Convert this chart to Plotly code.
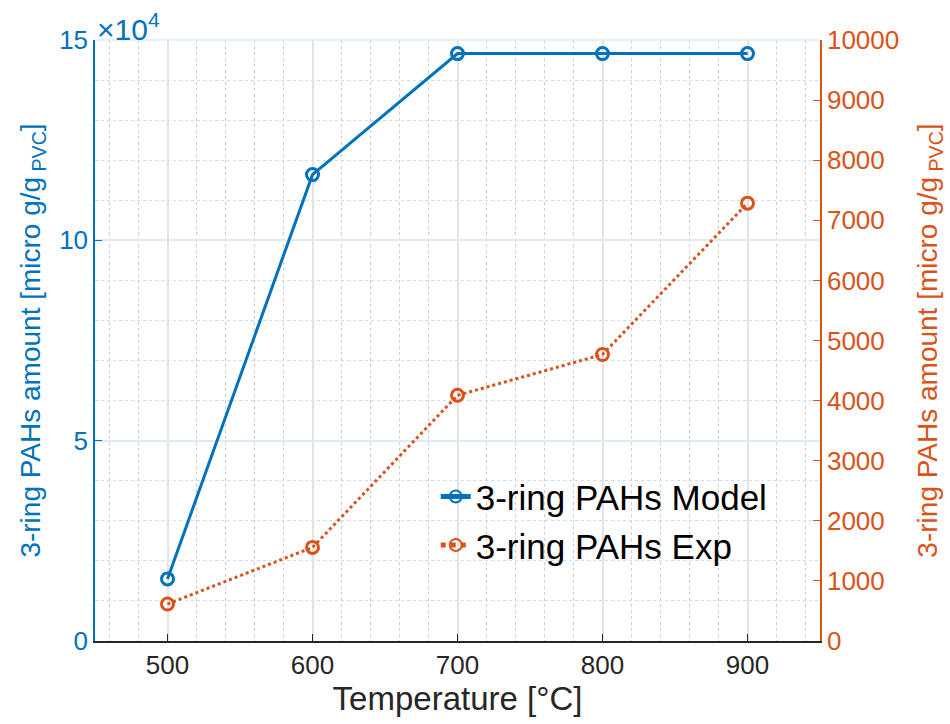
import plotly.graph_objects as go

temps = [500, 600, 700, 800, 900]
model_vals = [15500, 116400, 146600, 146600, 146600]
exp_vals = [615, 1557, 4088, 4767, 7285]
left_ticks = [0, 50000, 100000, 150000]
left_ticktext = ["0", "5", "10", "15"]
x_ticks = [500, 600, 700, 800, 900]

BLUE = "#0072BD"
ORANGE = "#D95319"
FONT = "Liberation Sans, Arial, Helvetica, sans-serif"

fig = go.Figure()
fig.add_trace(go.Scatter(
    x=temps, y=model_vals, name="3-ring PAHs Model", mode="lines+markers",
    line=dict(color=BLUE, width=3),
    marker=dict(symbol="circle-open", size=12, color=BLUE, line=dict(width=3)),
    yaxis="y"))
fig.add_trace(go.Scatter(
    x=temps, y=exp_vals, name="3-ring PAHs Exp", mode="lines+markers",
    line=dict(color=ORANGE, width=3, dash="dot"),
    marker=dict(symbol="circle-open", size=12, color=ORANGE, line=dict(width=3)),
    yaxis="y2"))

fig.update_layout(
    width=950, height=724,
    margin=dict(l=95, r=128, t=40, b=83),
    paper_bgcolor="white", plot_bgcolor="white",
    font=dict(family=FONT, size=26, color="#262626"),
    showlegend=True,
    legend=dict(x=0.47, y=0.2, xanchor="left", yanchor="middle",
                bgcolor="rgba(0,0,0,0)", font=dict(size=35, color="black"),
                tracegroupgap=0, itemsizing="constant"),
    xaxis=dict(
        range=[450, 950], tickvals=x_ticks, ticks="inside", ticklen=7,
        tickcolor="#262626", tickfont=dict(size=26, color="#262626"),
        showline=True, linecolor="#262626", linewidth=1.5,
        showgrid=True, gridcolor="#e3e3e3", gridwidth=1.5,
        minor=dict(dtick=20, ticks="", showgrid=True, gridcolor="#cdcdcd", griddash="dot", gridwidth=1),
        zeroline=False,
        title=dict(text="Temperature [°C]", font=dict(size=33, color="#262626"), standoff=8),
    ),
    yaxis=dict(
        range=[0, 150000], tickvals=left_ticks, ticktext=left_ticktext,
        ticks="inside", ticklen=7, tickcolor=BLUE,
        tickfont=dict(size=26, color=BLUE),
        showline=True, linecolor=BLUE, linewidth=1.5,
        showgrid=True, gridcolor="#dcebf6", gridwidth=1.5,
        minor=dict(dtick=10000, ticks="", showgrid=True, gridcolor="#c6e0f2", griddash="dot", gridwidth=1),
        zeroline=False,
        title=dict(text="3-ring PAHs amount [micro g/g<sub> PVC</sub>]",
                   font=dict(size=28, color=BLUE), standoff=10),
    ),
    yaxis2=dict(
        range=[0, 10000], dtick=1000, tickformat="d", overlaying="y", side="right",
        ticks="inside", ticklen=7, tickcolor=ORANGE,
        tickfont=dict(size=26, color=ORANGE),
        showline=True, linecolor=ORANGE, linewidth=1.5,
        showgrid=False, zeroline=False,
        title=dict(text="3-ring PAHs amount [micro g/g<sub> PVC</sub>]",
                   font=dict(size=28, color=ORANGE), standoff=19),
    ),
)

fig.add_annotation(
    text="×10<sup>4</sup>", xref="paper", yref="paper", x=0.0, y=1.0,
    xanchor="left", yanchor="bottom", showarrow=False,
    font=dict(size=30, color=BLUE), yshift=-8)

fig.add_shape(type="line", xref="paper", yref="paper", x0=0, x1=1, y0=1, y1=1,
              line=dict(color="#dcebf6", width=1.5))

fig.write_html("out.html")
